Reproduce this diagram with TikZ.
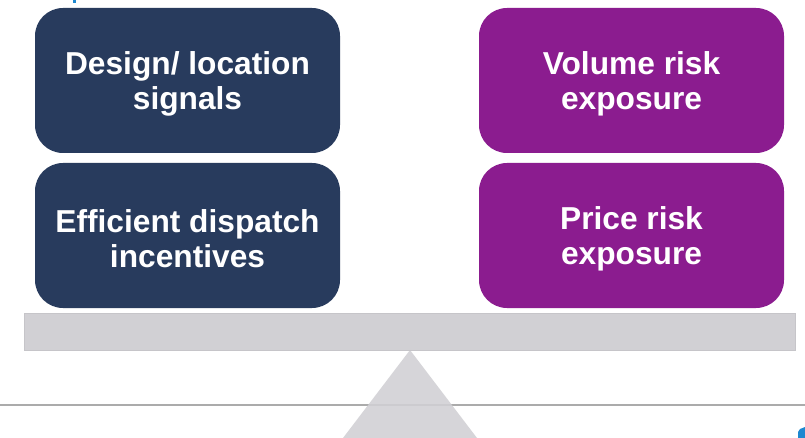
\documentclass[tikz,border=0pt]{standalone}
\usepackage{fontspec}
\setmainfont{Liberation Sans}
\definecolor{navy}{HTML}{283B5D}
\definecolor{plum}{HTML}{8B1C8F}
\definecolor{beam}{HTML}{D1D0D4}
\definecolor{beamedge}{HTML}{C6C5C9}
\definecolor{rule}{HTML}{ABABAB}
\definecolor{accent}{HTML}{1E88D0}
\newcommand{\toplift}{\rule{0pt}{29pt}}
\tikzset{
  weight/.style={rounded corners=28pt, minimum width=305pt, minimum height=145pt,
    inner sep=0pt, text=white, align=center,
    font=\fontsize{31.7pt}{35pt}\selectfont\bfseries},
  lhs/.style={weight, fill=navy},
  rhs/.style={weight, fill=plum},
}
\begin{document}
\begin{tikzpicture}[x=1pt,y=-1pt]
  \useasboundingbox (0,0) rectangle (805,438);
  \fill[white] (0,0) rectangle (805,438);
  % baseline rule
  \draw[rule, line width=1.5pt] (0,405) coordinate (r1) -- (805,405) coordinate (r2);
  % pivot and beam
  \fill[beam, opacity=0.88] (410,350) coordinate (apex) -- (343,438) -- (477,438) -- cycle;
  \draw[beamedge, fill=beam, line width=0.8pt] (24,313) rectangle (795,350);
  % weights
  \node[lhs] (design) at (187.5,80.5) {\toplift Design/ location\\signals};
  \node[lhs] (dispatch) at (187.5,235.5) {\toplift Efficient dispatch\\incentives};
  \node[rhs] (volume) at (631.5,80.5) {\toplift Volume risk\\exposure};
  \node[rhs] (price) at (631.5,235.5) {\toplift Price risk\\exposure};
  % clipped marks at the edges
  \fill[accent] (72.5,0) rectangle (76,3.5);
  \fill[accent] (800,429) -- (805,427) -- (805,438) -- (798,438) -- (798,432) -- cycle;
\end{tikzpicture}
\end{document}
